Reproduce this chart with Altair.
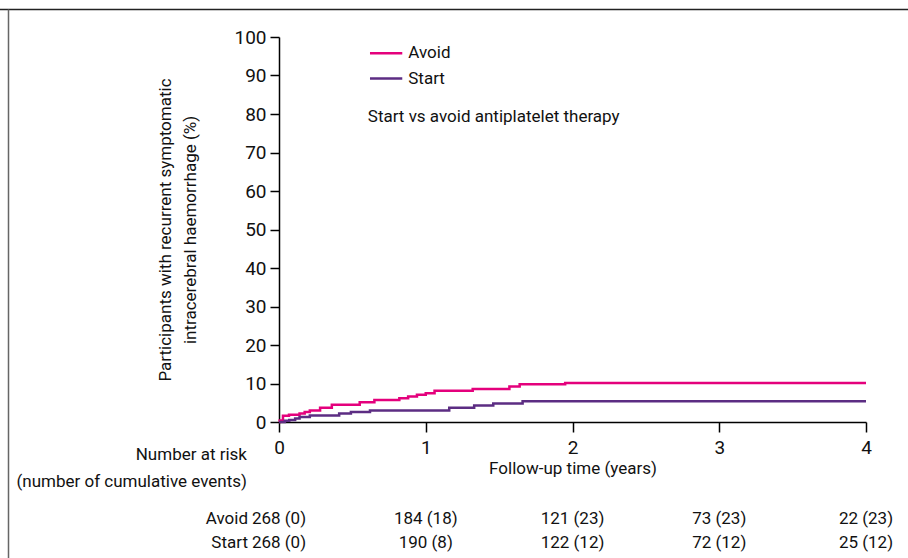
import altair as alt
import pandas as pd

# Kaplan-Meier step data (years, cumulative %)
avoid_t = [0, 0.005, 0.027, 0.068, 0.14, 0.175, 0.21, 0.28, 0.36, 0.55, 0.65, 0.82, 0.88, 0.94, 1.0, 1.06, 1.32, 1.57, 1.64, 1.95, 4.0]
avoid_y = [0, 0.4, 1.6, 1.9, 2.2, 2.6, 3.0, 3.7, 4.5, 5.1, 5.7, 6.2, 6.6, 7.1, 7.5, 8.1, 8.6, 9.2, 9.8, 10.1, 10.1]
start_t = [0, 0.04, 0.07, 0.11, 0.14, 0.21, 0.41, 0.49, 0.62, 1.16, 1.33, 1.46, 1.66, 4.0]
start_y = [0, 0.3, 0.5, 0.9, 1.3, 1.7, 2.2, 2.6, 3.0, 3.7, 4.3, 4.8, 5.4, 5.4]

groups = ["Avoid", "Start"]
colors = ["#E4007C", "#5C2D83"]

risk_times = [0, 1, 2, 3, 4]
y_ticks = [0, 10, 20, 30, 40, 50, 60, 70, 80, 90, 100]
avoid_risk = ["268 (0)", "184 (18)", "121 (23)", "73 (23)", "22 (23)"]
start_risk = ["268 (0)", "190 (8)", "122 (12)", "72 (12)", "25 (12)"]

FONT = "Roboto"
TFS = 17      # general text size
LFS = 19      # tick label size
W, H = 587, 385
LEFT, TOP = 279, 37
CW, CH = 908, 558

curve = pd.DataFrame(
    [{"t": t, "y": y, "group": "Avoid"} for t, y in zip(avoid_t, avoid_y)]
    + [{"t": t, "y": y, "group": "Start"} for t, y in zip(start_t, start_y)]
)

xscale = alt.Scale(domain=[0, 4], nice=False)
yscale = alt.Scale(domain=[0, 100], nice=False)
cscale = alt.Scale(domain=groups, range=colors)

AX = alt.Axis(values=risk_times, format="d", title="Follow-up time (years)",
              tickSize=10, labelPadding=6, titlePadding=3, labelFlush=False,
              labelFontSize=LFS, titleFontSize=TFS, titleFontWeight="normal", grid=False)
AY = alt.Axis(values=y_ticks, labelOverlap=False,
              title=["Participants with recurrent symptomatic", "intracerebral haemorrhage (%)"],
              tickSize=9, labelPadding=4, titlePadding=34,
              labelFontSize=LFS, titleFontSize=TFS, titleFontWeight="normal",
              titleLineHeight=25, grid=False)


def X(field):
    return alt.X(field, type="quantitative", scale=xscale, axis=AX)


def Y(field):
    return alt.Y(field, type="quantitative", scale=yscale, axis=AY)


lines = alt.Chart(curve).mark_line(interpolate="step-after", strokeWidth=2.5).encode(
    x=X("t"), y=Y("y"),
    color=alt.Color("group:N", scale=cscale, legend=None),
)

# manual legend
leg = pd.DataFrame({"group": groups, "y": [95.8, 89.2], "x0": [0.62, 0.62], "x1": [0.84, 0.84]})
leg_lines = alt.Chart(leg).mark_rule(strokeWidth=2.5).encode(
    x=X("x0"), x2="x1:Q", y=Y("y"),
    color=alt.Color("group:N", scale=cscale, legend=None))
leg_text = alt.Chart(leg).mark_text(align="left", baseline="middle", fontSize=TFS, font=FONT,
                                    color="#111", dx=6).encode(
    x=X("x1"), y=Y("y"), text="group:N")

note = alt.Chart(pd.DataFrame({"t": [0.605], "y": [79.3], "txt": ["Start vs avoid antiplatelet therapy"]})).mark_text(
    align="left", baseline="middle", fontSize=TFS, font=FONT, color="#111"
).encode(x=X("t"), y=Y("y"), text="txt:N")

risk_df = pd.DataFrame(
    [{"t": t, "txt": s, "row": "Avoid"} for t, s in zip(risk_times, avoid_risk)]
    + [{"t": t, "txt": s, "row": "Start"} for t, s in zip(risk_times, start_risk)]
)
row_y = {"Avoid": 519 - TOP, "Start": 543 - TOP}

risk_layers = []
for g in groups:
    d = risk_df[risk_df.row == g]
    risk_layers.append(
        alt.Chart(d).mark_text(align="center", baseline="middle", fontSize=TFS, font=FONT, color="#111")
        .encode(x=X("t"), y=alt.value(row_y[g]), text="txt:N")
    )
    risk_layers.append(
        alt.Chart(pd.DataFrame({"t": [0], "txt": [g]})).mark_text(
            align="right", baseline="middle", fontSize=TFS, font=FONT, color="#111", dx=-31)
        .encode(x=X("t"), y=alt.value(row_y[g]), text="txt:N")
    )

hdr_df = pd.DataFrame({"t": [0, 0], "txt": ["Number at risk", "(number of cumulative events)"]})
hdr_layers = [
    alt.Chart(hdr_df.iloc[[i]]).mark_text(
        align="right", baseline="middle", fontSize=TFS, font=FONT, color="#111", dx=-32
    ).encode(x=X("t"), y=alt.value(py), text="txt:N")
    for i, py in enumerate([455 - TOP, 482 - TOP])
]

frame_top = alt.Chart(pd.DataFrame({"a": [0]})).mark_rule(color="#222", strokeWidth=1.5).encode(
    x=alt.value(-LEFT), x2=alt.value(CW - LEFT), y=alt.value(9.5 - TOP))
frame_left = alt.Chart(pd.DataFrame({"a": [0]})).mark_rule(color="#666", strokeWidth=1.5).encode(
    x=alt.value(8.5 - LEFT), y=alt.value(9.5 - TOP), y2=alt.value(CH - TOP))

chart = alt.layer(frame_top, frame_left, lines, leg_lines, leg_text, note, *hdr_layers, *risk_layers).properties(
    width=W, height=H,
    autosize=alt.AutoSizeParams(type="none"),
    padding={"left": LEFT, "top": TOP, "right": CW - LEFT - W, "bottom": CH - TOP - H},
    background="white",
).configure_view(stroke=None).configure_axis(
    domainColor="#000", tickColor="#000", domainWidth=1.5, tickWidth=1.5,
    labelFont=FONT, titleFont=FONT, labelColor="#111", titleColor="#111",
).configure_text(font=FONT)

chart.save("out.html", embed_options={"renderer": "svg", "actions": False})
